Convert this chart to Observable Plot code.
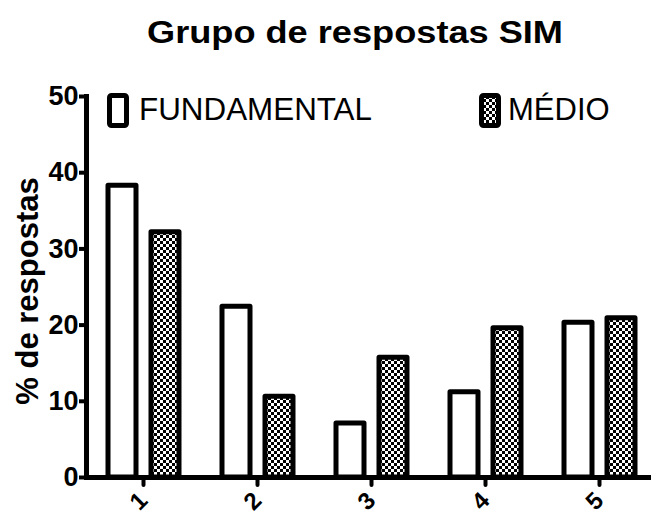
<!DOCTYPE html>
<html><head><meta charset="utf-8">
<script src="https://cdn.jsdelivr.net/npm/d3@7"></script>
<script src="https://cdn.jsdelivr.net/npm/@observablehq/plot@0.6"></script>
<style>
body{margin:0;background:#fff;font-family:"Liberation Sans",Arial,sans-serif;}
#wrap{position:relative;width:651px;height:514px;overflow:hidden;background:#fff;}
#title{height:70px;}
#overlay{position:absolute;left:0;top:0;pointer-events:none;}
</style></head><body>
<div id="wrap">
<div id="title"></div>
<div id="chart"></div>
</div>
<script>
const categories = ["1", "2", "3", "4", "5"];
const series = ["FUNDAMENTAL", "MÉDIO"];
const fundamental = [38.3, 22.4, 7.1, 11.2, 20.3];
const medio = [32.2, 10.6, 15.7, 19.6, 20.9];
const yTicks = [0, 10, 20, 30, 40, 50];
const titleText = "Grupo de respostas SIM";
const yLabel = "% de respostas";

const rows = [];
categories.forEach((c, i) => {
  rows.push({cat: c, series: series[0], value: fundamental[i]});
  rows.push({cat: c, series: series[1], value: medio[i]});
});

const FONT = '"Liberation Sans", Arial, Helvetica, sans-serif';
const ns = "http://www.w3.org/2000/svg";

// title
document.getElementById("title").innerHTML =
  `<svg width="651" height="70" style="display:block"><text x="355" y="43" text-anchor="middle" font-family='${FONT}' font-weight="bold" font-size="31" textLength="416" lengthAdjust="spacingAndGlyphs">${titleText}</text></svg>`;

const plot = Plot.plot({
  width: 651,
  height: 444,
  marginLeft: 85,
  marginRight: -5,
  marginTop: 26,
  marginBottom: 37,
  style: {fontFamily: FONT, background: "white", color: "black", overflow: "visible"},
  fx: {domain: categories, padding: 0, label: null},
  x: {domain: series, paddingInner: 0.35, paddingOuter: 0.5, axis: null},
  y: {domain: [0, 50], label: null},
  marks: [
    Plot.barY(rows.filter(d => d.series === series[0]), {fx: "cat", x: "series", y: "value", fill: "white", stroke: "black", strokeWidth: 5, strokeLinejoin: "round"}),
    Plot.barY(rows.filter(d => d.series === series[1]), {fx: "cat", x: "series", y: "value", fill: "url(#checker)", stroke: "black", strokeWidth: 5, strokeLinejoin: "round"}),
    Plot.ruleY([0], {strokeWidth: 5}),
    Plot.frame({anchor: "left", facetAnchor: "left", strokeWidth: 5}),
    Plot.axisY(yTicks, {tickSize: 7, strokeWidth: 4, tickPadding: 1, fontSize: 27, fontWeight: "bold", label: null}),
    Plot.text([yLabel], {text: d => d, frameAnchor: "left", facetAnchor: "left", textAnchor: "middle", rotate: -90, dx: -58, dy: 4, fontSize: 31, fontWeight: "bold"}),
    Plot.axisFx({anchor: "bottom", tickSize: 8, strokeWidth: 4, strokeLinecap: "round", fill: "none", label: null}),
    Plot.axisFx({anchor: "bottom", tickSize: 0, tickRotate: -45, fontSize: 24, fontWeight: "bold", tickPadding: 19, label: null})
  ]
});

const defs = document.createElementNS(ns, "defs");
defs.innerHTML = `<pattern id="checker" width="6" height="6" patternUnits="userSpaceOnUse"><rect width="6" height="6" fill="white"/><rect width="3" height="3" fill="black"/><rect x="3" y="3" width="3" height="3" fill="black"/></pattern>`;
plot.insertBefore(defs, plot.firstChild);
plot.style.display = "block";
document.getElementById("chart").appendChild(plot);

// legend overlay
const ov = document.createElementNS(ns, "svg");
ov.setAttribute("id", "overlay");
ov.setAttribute("width", 651);
ov.setAttribute("height", 514);
ov.innerHTML = `
  <g font-family='${FONT}' font-size="31">
    <rect x="109.5" y="95.5" width="17" height="30" rx="2" fill="white" stroke="black" stroke-width="5" stroke-linejoin="round"/>
    <text x="139" y="120" textLength="233" lengthAdjust="spacingAndGlyphs">${series[0]}</text>
    <rect x="481.5" y="95.5" width="17" height="30" rx="2" fill="url(#checker)" stroke="black" stroke-width="5" stroke-linejoin="round"/>
    <text x="508" y="120">${series[1]}</text>
  </g>`;
document.getElementById("wrap").appendChild(ov);
</script>
</body></html>
